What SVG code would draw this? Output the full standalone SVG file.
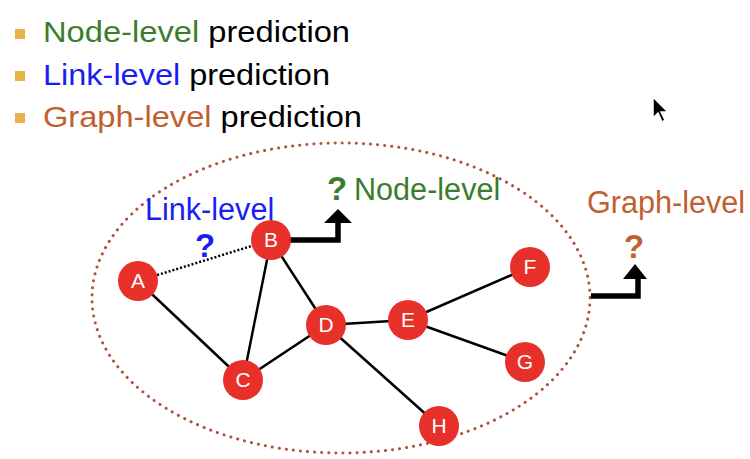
<svg xmlns="http://www.w3.org/2000/svg" width="750" height="459" viewBox="0 0 750 459">
<style>
.node circle{fill:#e8302a;}
.node text{fill:#fff;font-family:"Liberation Sans",Arial,sans-serif;font-size:21px;text-anchor:middle;}
.edge{stroke:#000;stroke-width:2.5;fill:none;}
.list{font-family:"Liberation Sans",Arial,sans-serif;font-size:30px;fill:#000;}
.lbl{font-family:"Liberation Sans",Arial,sans-serif;font-size:30.6px;}
.q{font-family:"Liberation Sans",Arial,sans-serif;font-size:33px;font-weight:bold;text-anchor:middle;}
.bullet{fill:#e9b04c;}
.big{stroke:#000;stroke-width:5.5;fill:none;}
</style>
<rect width="750" height="459" fill="#fff"/>
<g id="list">
<rect class="bullet" x="15" y="29" width="10" height="10"/>
<rect class="bullet" x="15" y="71" width="10" height="10"/>
<rect class="bullet" x="15" y="113" width="10" height="10"/>
<text class="list" x="43" y="42" textLength="307" lengthAdjust="spacingAndGlyphs"><tspan fill="#3b7d2d">Node-level</tspan> prediction</text>
<text class="list" x="43" y="85" textLength="287" lengthAdjust="spacingAndGlyphs"><tspan fill="#1b1ef0">Link-level</tspan> prediction</text>
<text class="list" x="43" y="127" textLength="319" lengthAdjust="spacingAndGlyphs"><tspan fill="#c0602f">Graph-level</tspan> prediction</text>
</g>
<g id="graph-boundary">
<ellipse cx="341" cy="298" rx="249" ry="155" fill="none" stroke="#b0533e" stroke-width="3" stroke-dasharray="0.1 7" stroke-linecap="round"/>
</g>
<g id="connectors">
<line class="edge" x1="138" y1="281" x2="243" y2="380"/>
<line class="edge" x1="271" y1="240" x2="243" y2="380"/>
<line class="edge" x1="271" y1="240" x2="326" y2="325"/>
<line class="edge" x1="243" y1="380" x2="326" y2="325"/>
<line class="edge" x1="326" y1="325" x2="408" y2="320"/>
<line class="edge" x1="326" y1="325" x2="439" y2="426"/>
<line class="edge" x1="408" y1="320" x2="530" y2="267"/>
<line class="edge" x1="408" y1="320" x2="525" y2="362"/>
<line x1="138" y1="281" x2="271" y2="240" stroke="#000" stroke-width="2.5" stroke-dasharray="2 2"/>
<polyline class="big" points="290,240 338,240 338,222"/>
<polygon points="324,223 352,223 338,209" fill="#000"/>
<polyline class="big" points="591,296 638,296 638,278"/>
<polygon points="623,279 647,279 635,264" fill="#000"/>
</g>
<g id="node-A" class="node"><circle cx="138" cy="281" r="20"/><text x="138" y="288">A</text></g>
<g id="node-B" class="node"><circle cx="271" cy="240" r="20"/><text x="271" y="247">B</text></g>
<g id="node-C" class="node"><circle cx="243" cy="380" r="20"/><text x="243" y="387">C</text></g>
<g id="node-D" class="node"><circle cx="326" cy="325" r="20"/><text x="326" y="332">D</text></g>
<g id="node-E" class="node"><circle cx="408" cy="320" r="20"/><text x="408" y="327">E</text></g>
<g id="node-F" class="node"><circle cx="530" cy="267" r="20"/><text x="530" y="274">F</text></g>
<g id="node-G" class="node"><circle cx="525" cy="362" r="20"/><text x="525" y="369">G</text></g>
<g id="node-H" class="node"><circle cx="439" cy="426" r="20"/><text x="439" y="433">H</text></g>
<g id="labels">
<text class="lbl" x="145" y="220" fill="#1b1ef0">Link-level</text>
<text class="q" x="205" y="257" fill="#1b1ef0">?</text>
<text class="q" x="337" y="200" fill="#3b7d2d">?</text>
<text class="lbl" x="354" y="200" fill="#3b7d2d">Node-level</text>
<text class="lbl" x="587" y="213" fill="#c0602f">Graph-level</text>
<text class="q" x="634" y="258" fill="#c0602f">?</text>
</g>
<g id="cursor">
<polygon points="653,97 653,118 658,113 662,122 665,120 661,112 668,112" fill="#000" stroke="#fff" stroke-width="1.5"/>
</g>
</svg>
